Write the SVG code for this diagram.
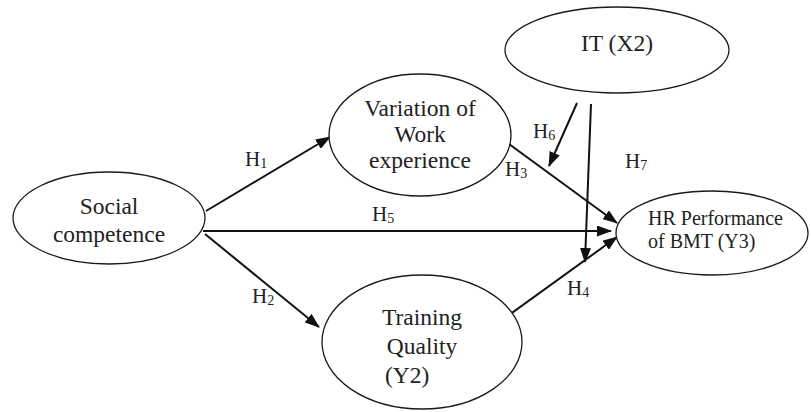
<svg xmlns="http://www.w3.org/2000/svg" width="811" height="412" viewBox="0 0 811 412">
<style>
.node{fill:#fff;stroke:#1a1a1a;stroke-width:1.3}
.t{font-family:"Liberation Serif","Times New Roman",serif;font-size:23.5px;fill:#222;text-anchor:middle}
.hr{font-size:20px;text-anchor:start}
.lab{font-family:"Liberation Serif","Times New Roman",serif;font-size:21px;fill:#222}
.sub{font-size:14px}
.c{stroke:#111;stroke-width:2;fill:none}
.a{marker-end:url(#ah)}
</style>
<defs>
<marker id="ah" markerUnits="userSpaceOnUse" markerWidth="15" markerHeight="11" refX="14" refY="5.5" orient="auto">
<path d="M0,0 L15,5.5 L0,11 z" fill="#111"/>
</marker>
</defs>
<g id="connectors">
<line class="c a" x1="206" y1="211" x2="330" y2="137"/>
<line class="c a" x1="203" y1="231" x2="611" y2="231"/>
<line class="c a" x1="205" y1="234" x2="319" y2="327"/>
<line class="c a" x1="509" y1="144" x2="617" y2="223"/>
<line class="c a" x1="505" y1="318" x2="617" y2="237"/>
<line class="c a" x1="577" y1="103" x2="549" y2="166"/>
<line class="c a" x1="591" y1="104" x2="585" y2="262"/>
</g>
<g id="labels">
<text class="lab" x="245" y="166">H<tspan class="sub" dy="2">1</tspan></text>
<text class="lab" x="372" y="221">H<tspan class="sub" dy="2">5</tspan></text>
<text class="lab" x="252" y="303">H<tspan class="sub" dy="2">2</tspan></text>
<text class="lab" x="505" y="176">H<tspan class="sub" dy="2">3</tspan></text>
<text class="lab" x="533" y="138">H<tspan class="sub" dy="2">6</tspan></text>
<text class="lab" x="625" y="168">H<tspan class="sub" dy="2">7</tspan></text>
<text class="lab" x="567" y="295">H<tspan class="sub" dy="2">4</tspan></text>
</g>
<g id="social">
<ellipse class="node" cx="109" cy="218" rx="96" ry="46"/>
<text class="t" x="109" y="214">Social</text>
<text class="t" x="109" y="242">competence</text>
</g>
<g id="variation">
<ellipse class="node" cx="420" cy="135" rx="91" ry="61"/>
<text class="t" x="420" y="116">Variation of</text>
<text class="t" x="420" y="142">Work</text>
<text class="t" x="420" y="168">experience</text>
</g>
<g id="it">
<ellipse class="node" cx="617" cy="50" rx="112" ry="43"/>
<text class="t" x="617" y="51">IT (X2)</text>
</g>
<g id="training">
<ellipse class="node" cx="422" cy="342" rx="100" ry="67"/>
<text class="t" x="422" y="325">Training</text>
<text class="t" x="422" y="354">Quality</text>
<text class="t" x="385" y="383" style="text-anchor:start">(Y2)</text>
</g>
<g id="hr">
<ellipse class="node" cx="712" cy="233" rx="96" ry="42"/>
<text class="t hr" x="648" y="225">HR Performance</text>
<text class="t hr" x="648" y="248">of BMT (Y3)</text>
</g>
</svg>
